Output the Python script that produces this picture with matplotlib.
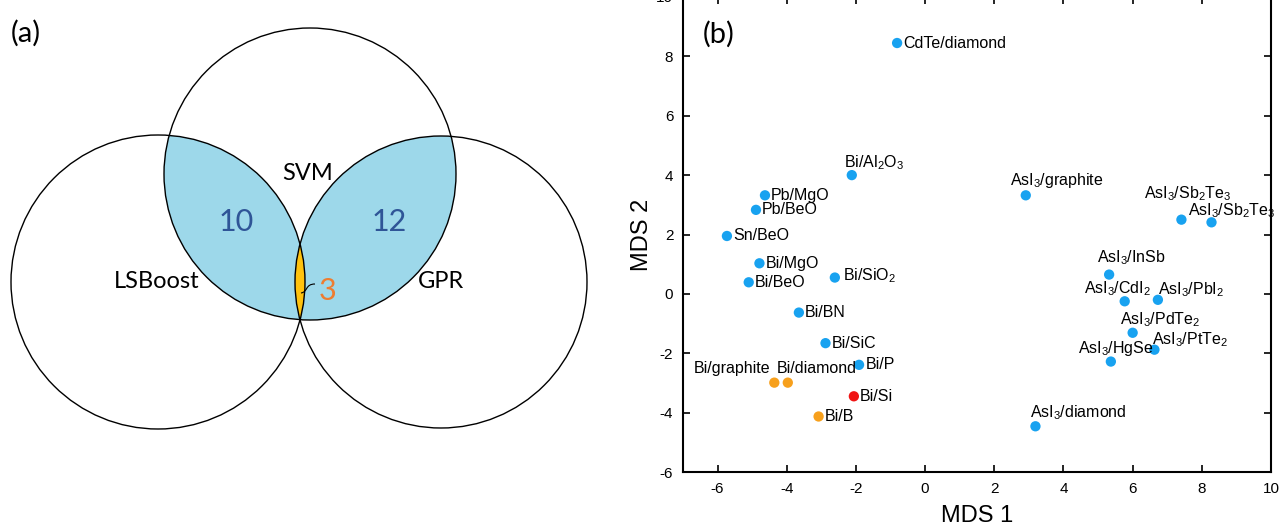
import numpy as np
import matplotlib.pyplot as plt
from matplotlib.patches import Circle, PathPatch
from matplotlib.path import Path

plt.rcParams['font.family'] = 'Liberation Sans'
plt.rcParams['mathtext.fontset'] = 'custom'
plt.rcParams['mathtext.rm'] = 'Liberation Sans'
plt.rcParams['mathtext.it'] = 'Liberation Sans'
plt.rcParams['mathtext.default'] = 'rm'
plt.rcParams['axes.unicode_minus'] = False

# (a) venn counts
set_names = ['LSBoost', 'SVM', 'GPR']
n_lsb_svm = 10
n_svm_gpr = 12
n_all = 3

# (b) MDS embedding
names = ['CdTe/diamond', r'Bi/Al$_2$O$_3$', 'Pb/MgO', 'Pb/BeO', 'Sn/BeO',
         'Bi/MgO', 'Bi/BeO', r'Bi/SiO$_2$', 'Bi/BN', 'Bi/SiC', 'Bi/P',
         'Bi/graphite', 'Bi/diamond', 'Bi/Si', 'Bi/B',
         r'AsI$_3$/graphite', r'AsI$_3$/Sb$_2$Te$_3$', r'AsI$_3$/Sb$_2$Te$_3$',
         r'AsI$_3$/InSb', r'AsI$_3$/CdI$_2$', r'AsI$_3$/PbI$_2$',
         r'AsI$_3$/PdTe$_2$', r'AsI$_3$/PtTe$_2$', r'AsI$_3$/HgSe',
         r'AsI$_3$/diamond']
mds1 = [-0.81, -2.12, -4.63, -4.89, -5.73, -4.79, -5.10, -2.61, -3.65, -2.88,
        -1.91, -4.36, -3.97, -2.06, -3.08, 2.91, 7.41, 8.28, 5.32, 5.77, 6.73,
        6.00, 6.63, 5.37, 3.19]
mds2 = [8.45, 4.00, 3.32, 2.83, 1.95, 1.03, 0.39, 0.55, -0.63, -1.66, -2.39,
        -2.99, -2.99, -3.45, -4.13, 3.32, 2.50, 2.41, 0.65, -0.25, -0.20,
        -1.31, -1.88, -2.28, -4.46]
group = ['b', 'b', 'b', 'b', 'b', 'b', 'b', 'b', 'b', 'b', 'b',
         'o', 'o', 'r', 'o', 'b', 'b', 'b', 'b', 'b', 'b', 'b', 'b', 'b', 'b']

colmap = {'b': '#18A2F0', 'o': '#F7A01C', 'r': '#F01414'}

# label placement (offset points, alignment)
R = (4.5, 0, 'left')
label_pos = [R, (-5.5, 9, 'left'), R, R, R, R, R, (6, 1.5, 'left'), R, R,
             (4.5, 0.5, 'left'), (-3, 10, 'right'), (-8, 10, 'left'), R, R,
             (-11, 11, 'left'), (-27, 19, 'left'), (-17, 8.5, 'left'),
             (-9, 12, 'left'), (-29.5, 9, 'left'), (0, 7.5, 'left'),
             (-9, 9.5, 'left'), (-2, 7, 'left'), (-23.5, 9.5, 'left'),
             (-4, 10, 'left')]

fig = plt.figure(figsize=(12.8, 5.28), dpi=100)

# ---- (a) venn, drawn in pixel coords ----
ax0 = fig.add_axes([0, 0, 1, 1])
ax0.set_xlim(0, 1280)
ax0.set_ylim(528, 0)
ax0.axis('off')

cen = {'LSBoost': (158, 282, 147), 'SVM': (310, 174, 146), 'GPR': (441, 282, 146)}

def circ(name, **kw):
    x, y, r = cen[name]
    return Circle((x, y), r, transform=ax0.transData, **kw)

blue = '#9DD8EA'
for other in ['LSBoost', 'GPR']:
    p = circ('SVM', fc=blue, ec='none')
    ax0.add_patch(p)
    p.set_clip_path(circ(other))
p = circ('LSBoost', fc='#FFC20E', ec='none')
ax0.add_patch(p)
p.set_clip_path(circ('GPR'))
for nm in set_names:
    ax0.add_patch(circ(nm, fc='none', ec='black', lw=1.0))

vfont = 'Lato'
ax0.text(157, 281, set_names[0], fontsize=17, family=vfont, ha='center', va='center')
ax0.text(308, 173, set_names[1], fontsize=17, family=vfont, ha='center', va='center')
ax0.text(441, 281, set_names[2], fontsize=17, family=vfont, ha='center', va='center')
ax0.text(236, 222, str(n_lsb_svm), fontsize=22, family=vfont, color='#2F5597', ha='center', va='center')
ax0.text(389, 222, str(n_svm_gpr), fontsize=22, family=vfont, color='#2F5597', ha='center', va='center')
ax0.text(328, 291, str(n_all), fontsize=22, family=vfont, color='#ED7D31', ha='center', va='center')
lead = Path([(301, 293), (308, 292), (305, 284), (315, 284)],
            [Path.MOVETO, Path.CURVE4, Path.CURVE4, Path.CURVE4])
ax0.add_patch(PathPatch(lead, fc='none', ec='black', lw=0.8))
ax0.text(26, 33, '(a)', fontsize=21, family=vfont, ha='center', va='center')

# ---- (b) MDS scatter ----
ax1 = fig.add_axes([683/1280, 56/528, (1271-683)/1280, 475/528])
ax1.scatter(mds1, mds2, s=55, c=[colmap[g] for g in group], zorder=3, lw=0)
for i, nm in enumerate(names):
    dx, dy, ha = label_pos[i]
    ax1.annotate(nm, (mds1[i], mds2[i]), xytext=(dx, dy), textcoords='offset points',
                 ha=ha, va='center', fontsize=11.5)

ax1.set_xlim(-7, 10)
ax1.set_ylim(-6, 10)
ax1.set_xticks(np.arange(-6, 11, 2))
ax1.set_yticks(np.arange(-6, 11, 2))
ax1.tick_params(direction='in', length=5, width=1.2, labelsize=11,
                top=True, right=True, pad=7)
for s in ax1.spines.values():
    s.set_linewidth(1.5)
ax1.set_xlabel('MDS 1', fontsize=17, labelpad=7)
ax1.set_ylabel('MDS 2', fontsize=17, labelpad=2)
ax1.text(0.06, 0.922, '(b)', transform=ax1.transAxes, fontsize=21, family=vfont,
         ha='center', va='center')

fig.savefig('out.png', dpi=100)
